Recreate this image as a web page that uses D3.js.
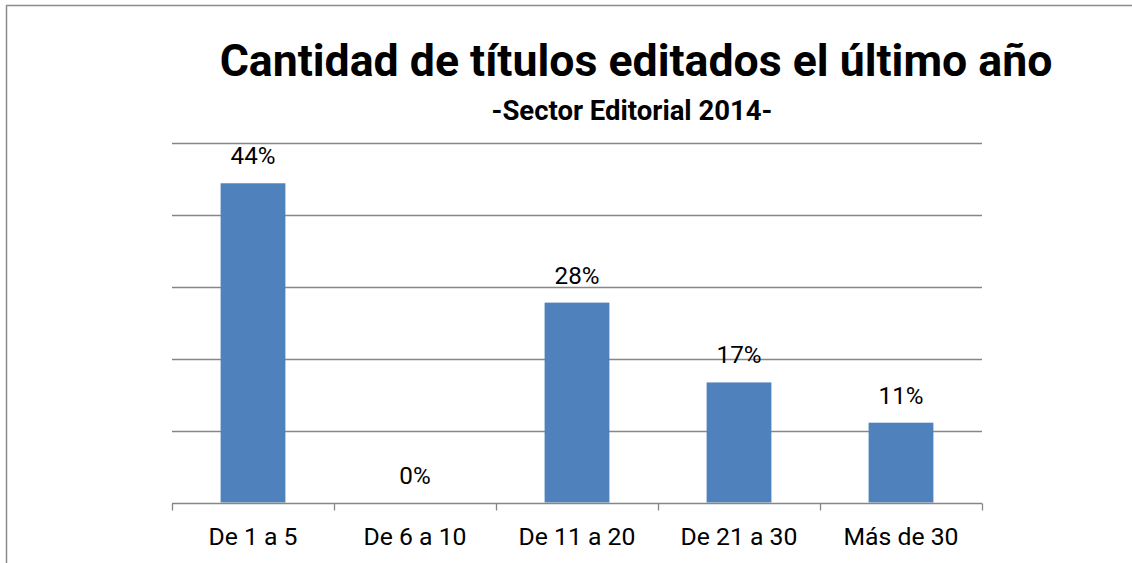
<!DOCTYPE html>
<html>
<head>
<meta charset="utf-8">
<script src="https://cdn.jsdelivr.net/npm/d3@7"></script>
<style>
  html, body { margin: 0; padding: 0; background: #fff; }
  svg { display: block; }
  text { font-family: Roboto, "Open Sans", sans-serif; fill: #000; font-variant-ligatures: none; font-feature-settings: "liga" 0, "clig" 0; }
</style>
</head>
<body>
<svg id="chart" width="1132" height="563"></svg>
<script>
const categories = ["De 1 a 5", "De 6 a 10", "De 11 a 20", "De 21 a 30", "Más de 30"];
const values = [44.4, 0, 27.8, 16.7, 11.1];
const valueLabels = ["44%", "0%", "28%", "17%", "11%"];
const gridTicks = [0, 10, 20, 30, 40, 50];
const titleText = "Cantidad de títulos editados el último año";
const subtitleText = "-Sector Editorial 2014-";

const W = 1132, H = 563;
const svg = d3.select("#chart");

// outer frame (top and left edges visible)
svg.append("line").attr("x1", 6).attr("x2", W).attr("y1", 5.5).attr("y2", 5.5)
  .attr("stroke", "#8c8c8c").attr("stroke-width", 1.5);
svg.append("line").attr("x1", 6.5).attr("x2", 6.5).attr("y1", 5).attr("y2", H)
  .attr("stroke", "#8c8c8c").attr("stroke-width", 1.5);

const x = d3.scaleBand().domain(categories).range([172, 982]).paddingInner(0.6).paddingOuter(0.3);
const y = d3.scaleLinear().domain([0, 50]).range([502.5, 143]);

function fit(sel, target) {
  const node = sel.node();
  const fs = parseFloat(sel.attr("font-size"));
  const w = node.getComputedTextLength();
  sel.attr("font-size", (fs * target / w).toFixed(2));
}

// gridlines
svg.append("g").selectAll("line").data(gridTicks.filter(d => d > 0)).join("line")
  .attr("x1", 172).attr("x2", 982)
  .attr("y1", d => Math.round(y(d)) + 0.5).attr("y2", d => Math.round(y(d)) + 0.5)
  .attr("stroke", "#868686").attr("stroke-width", 1.3);

// bars
svg.append("g").selectAll("rect").data(values).join("rect")
  .attr("x", (d, i) => x(categories[i]))
  .attr("width", x.bandwidth())
  .attr("y", d => y(d))
  .attr("height", d => y(0) - y(d))
  .attr("fill", "#4f81bd");

// x axis
const xAxisG = svg.append("g").attr("transform", `translate(0,${Math.round(y(0)) + 0.5})`);
xAxisG.append("line").attr("x1", 172).attr("x2", 982).attr("stroke", "#868686").attr("stroke-width", 1.3);
const boundaries = d3.range(categories.length + 1).map(i => 172 + i * (810 / categories.length));
xAxisG.selectAll("line.tick").data(boundaries).join("line").attr("class", "tick")
  .attr("x1", d => Math.round(d) + 0.5).attr("x2", d => Math.round(d) + 0.5)
  .attr("y1", 0).attr("y2", 7).attr("stroke", "#868686").attr("stroke-width", 1.3);

const catLabels = svg.append("g").selectAll("text").data(categories).join("text")
  .attr("x", d => x(d) + x.bandwidth() / 2)
  .attr("y", 545)
  .attr("text-anchor", "middle")
  .attr("font-size", 20)
  .text(d => d);
// size labels so "De 6 a 10" spans ~103px
const probe = catLabels.filter((d, i) => i === 1);
fit(probe, 103);
const labelSize = probe.attr("font-size");
catLabels.attr("font-size", labelSize);

// value labels
const valLabels = svg.append("g").selectAll("text").data(values).join("text")
  .attr("x", (d, i) => x(categories[i]) + x.bandwidth() / 2)
  .attr("y", d => y(d) - 19)
  .attr("text-anchor", "middle")
  .attr("font-size", 20)
  .text((d, i) => valueLabels[i]);
const vprobe = valLabels.filter((d, i) => i === 0);
fit(vprobe, 45);
valLabels.attr("font-size", vprobe.attr("font-size"));

// titles
const t = svg.append("text").attr("x", 636).attr("y", 76).attr("text-anchor", "middle")
  .attr("font-weight", "bold").attr("font-size", 40).text(titleText);
fit(t, 833);
const st = svg.append("text").attr("x", 632).attr("y", 120).attr("text-anchor", "middle")
  .attr("font-weight", "bold").attr("font-size", 20).text(subtitleText);
fit(st, 281);
</script>
</body>
</html>
